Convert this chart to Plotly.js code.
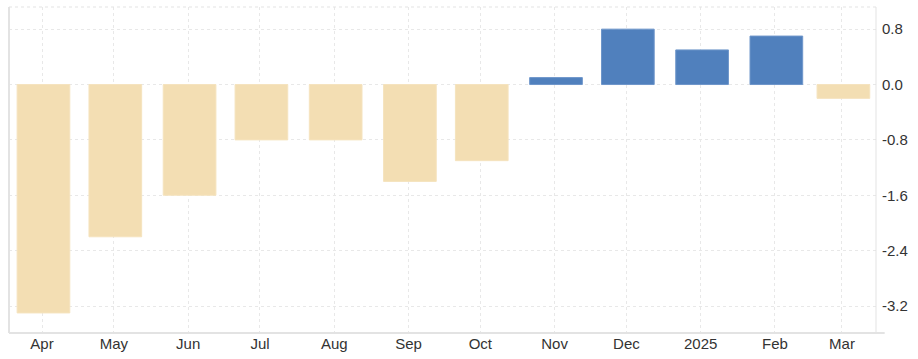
<!DOCTYPE html>
<html>
<head>
<meta charset="utf-8">
<script src="https://cdn.plot.ly/plotly-3.0.1.min.js"></script>
<style>html,body{margin:0;padding:0;background:#fff;}#chart{width:918px;height:359px;}</style>
</head>
<body>
<div id="chart"></div>
<script>
var months = ["2024-04-01","2024-05-01","2024-06-01","2024-07-01","2024-08-01","2024-09-01","2024-10-01","2024-11-01","2024-12-01","2025-01-01","2025-02-01","2025-03-01"];
var tickLabels = ["Apr","May","Jun","Jul","Aug","Sep","Oct","Nov","Dec","2025","Feb","Mar"];
var values = [-3.3, -2.2, -1.6, -0.8, -0.8, -1.4, -1.1, 0.1, 0.8, 0.5, 0.7, -0.2];
var yTicks = [0.8, 0.0, -0.8, -1.6, -2.4, -3.2];

var posColor = "#5080BD", negColor = "#F3DEB3";
var colors = values.map(function(v){ return v >= 0 ? posColor : negColor; });
var lineColors = values.map(function(v){ return v >= 0 ? "#6E96CA" : "#F5E3BE"; });
var DAY = 86400000;

var trace = {
  type: "bar",
  x: months,
  y: values,
  width: months.map(function(){ return 22 * DAY; }),
  offset: months.map(function(){ return -10.4 * DAY; }),
  marker: {color: colors, line: {color: lineColors, width: 1}},
  hoverinfo: "x+y"
};

var layout = {
  width: 918, height: 359,
  margin: {l: 9, r: 42, t: 7, b: 26},
  paper_bgcolor: "#fff", plot_bgcolor: "#fff",
  showlegend: false,
  bargap: 0,
  font: {family: "Liberation Sans, Arial, sans-serif", size: 15, color: "#333"},
  xaxis: {
    type: "date",
    range: ["2024-03-18 05:00", "2025-03-15 05:00"],
    tickvals: months,
    ticktext: tickLabels,
    showgrid: true, gridcolor: "#e8e8e8", griddash: "dot", gridwidth: 1,
    showline: false, zeroline: false,
    ticks: "", ticklabelstandoff: 0,
    tickfont: {size: 15, color: "#333"}
  },
  yaxis: {
    side: "right",
    range: [-3.59, 1.12],
    tickvals: yTicks,
    ticktext: yTicks.map(function(v){ return v.toFixed(1); }),
    showgrid: true, gridcolor: "#e8e8e8", griddash: "dot", gridwidth: 1,
    zeroline: false, showline: false,
    ticks: "", ticklabelstandoff: 5,
    tickfont: {size: 15, color: "#333"}
  },
  shapes: [
    {type: "line", xref: "paper", yref: "paper", x0: 0, x1: 0, y0: 0, y1: 1, line: {color: "#e3e3e3", width: 2}},
    {type: "line", xref: "paper", yref: "paper", x0: 1, x1: 1, y0: 0, y1: 1, line: {color: "#e3e3e3", width: 1}},
    {type: "line", xref: "paper", yref: "paper", x0: 0, x1: 1.01, y0: 0, y1: 0, line: {color: "#e3e3e3", width: 2}},
    {type: "line", xref: "paper", yref: "paper", x0: 0, x1: 1, y0: 1, y1: 1, line: {color: "#e3e3e3", width: 1, dash: "dot"}}
  ]
};

Plotly.newPlot("chart", [trace], layout, {displayModeBar: false, staticPlot: true});
</script>
</body>
</html>
